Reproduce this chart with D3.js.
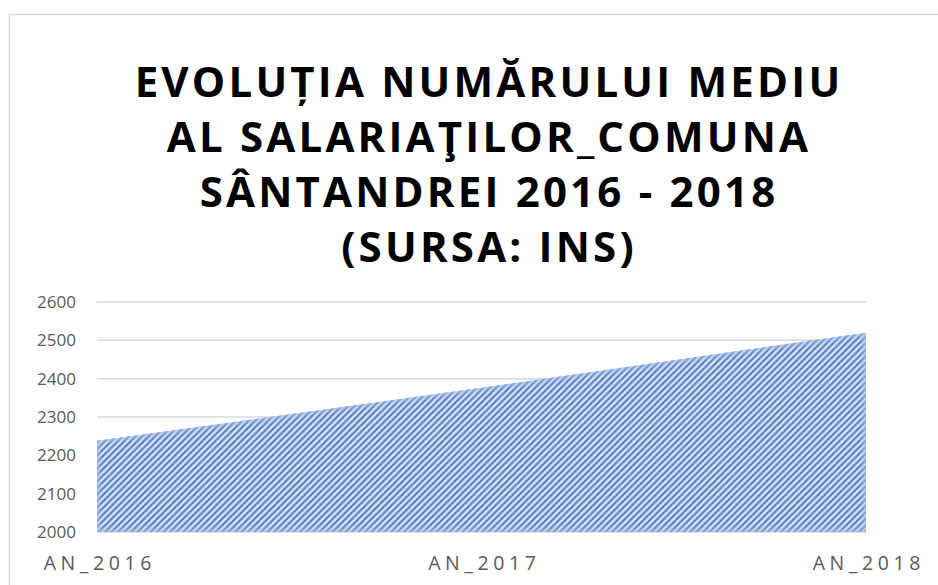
<!DOCTYPE html>
<html>
<head>
<meta charset="utf-8">
<script src="https://cdn.jsdelivr.net/npm/d3@7"></script>
<style>
  body { margin: 0; background: #fff; }
  svg { display: block; }
</style>
</head>
<body>
<script>
// chart data
var years = ["AN_2016", "AN_2017", "AN_2018"];
var salariati = [2238, 2376, 2520];
var yTicks = [2000, 2100, 2200, 2300, 2400, 2500, 2600];
var titleLines = ["EVOLUȚIA NUMĂRULUI MEDIU", "AL SALARIAŢILOR_COMUNA", "SÂNTANDREI 2016 - 2018", "(SURSA: INS)"];

var w = 938, h = 585;
var plotLeft = 97, plotRight = 866, plotTop = 302, plotBottom = 532;

var svg = d3.select("body").append("svg").attr("width", w).attr("height", h);

// chart border
svg.append("rect")
    .attr("x", 9.5).attr("y", 14.5)
    .attr("width", 960).attr("height", 600)
    .attr("fill", "none")
    .attr("stroke", "#d9d9d9")
    .attr("stroke-width", 1.5);

// hatch pattern, "/" stripes
var s = 6.5;
var defs = svg.append("defs");
var pat = defs.append("pattern")
    .attr("id", "hatch")
    .attr("patternUnits", "userSpaceOnUse")
    .attr("width", s).attr("height", s);
pat.append("rect").attr("width", s).attr("height", s).attr("fill", "#d6e0f3");
pat.append("path")
    .attr("d", "M-2,2 L2,-2 M0," + s + " L" + s + ",0 M" + (s - 2) + "," + (s + 2) + " L" + (s + 2) + "," + (s - 2))
    .attr("stroke", "#4a78c8").attr("stroke-width", 1.9);

var blur = defs.append("filter").attr("id", "soft");
blur.append("feGaussianBlur").attr("stdDeviation", 2);

// title
svg.append("g").selectAll("text")
    .data(titleLines)
    .join("text")
    .attr("x", 489)
    .attr("y", function (d, i) { return 97 + i * 55; })
    .attr("text-anchor", "middle")
    .attr("font-family", "Open Sans, sans-serif")
    .attr("font-weight", "bold")
    .attr("font-size", 42)
    .attr("letter-spacing", 3.2)
    .attr("fill", "#000")
    .text(function (d) { return d; });

var x = d3.scalePoint().domain(years).range([plotLeft, plotRight]);
var y = d3.scaleLinear().domain([2000, 2600]).range([plotBottom, plotTop]);

// gridlines
svg.append("g").selectAll("line")
    .data(yTicks)
    .join("line")
    .attr("x1", plotLeft).attr("x2", plotRight)
    .attr("y1", function (d) { return y(d); })
    .attr("y2", function (d) { return y(d); })
    .attr("stroke", "#d9d9d9")
    .attr("stroke-width", 1.5);

var area = d3.area()
    .x(function (d, i) { return x(years[i]); })
    .y0(plotBottom)
    .y1(function (d) { return y(d); });

var clip = defs.append("clipPath").attr("id", "areaClip");
clip.append("path").attr("d", area(salariati));

svg.append("path")
    .attr("d", area(salariati))
    .attr("fill", "url(#hatch)");

// soft light edge like the reference
svg.append("path")
    .attr("d", area(salariati))
    .attr("fill", "none")
    .attr("stroke", "#a9bde6")
    .attr("stroke-width", 5)
    .attr("filter", "url(#soft)")
    .attr("clip-path", "url(#areaClip)")
    .attr("opacity", 0.8);

// y axis
var yAxis = svg.append("g")
    .attr("transform", "translate(" + (plotLeft - 21) + ",0)")
    .call(d3.axisLeft(y).tickValues(yTicks).tickSize(0).tickPadding(0).tickFormat(d3.format("d")));
yAxis.select(".domain").remove();
yAxis.selectAll("text")
    .attr("font-family", "Open Sans, sans-serif")
    .attr("font-size", 17)
    .attr("fill", "#595959");

// x axis
var xAxis = svg.append("g")
    .attr("transform", "translate(0," + plotBottom + ")")
    .call(d3.axisBottom(x).tickSize(0).tickPadding(24));
xAxis.select(".domain").remove();
xAxis.selectAll("text")
    .attr("font-family", "Open Sans, sans-serif")
    .attr("font-size", 19.5)
    .attr("letter-spacing", 4.6)
    .attr("dx", 2.3)
    .attr("fill", "#595959");
</script>
</body>
</html>
